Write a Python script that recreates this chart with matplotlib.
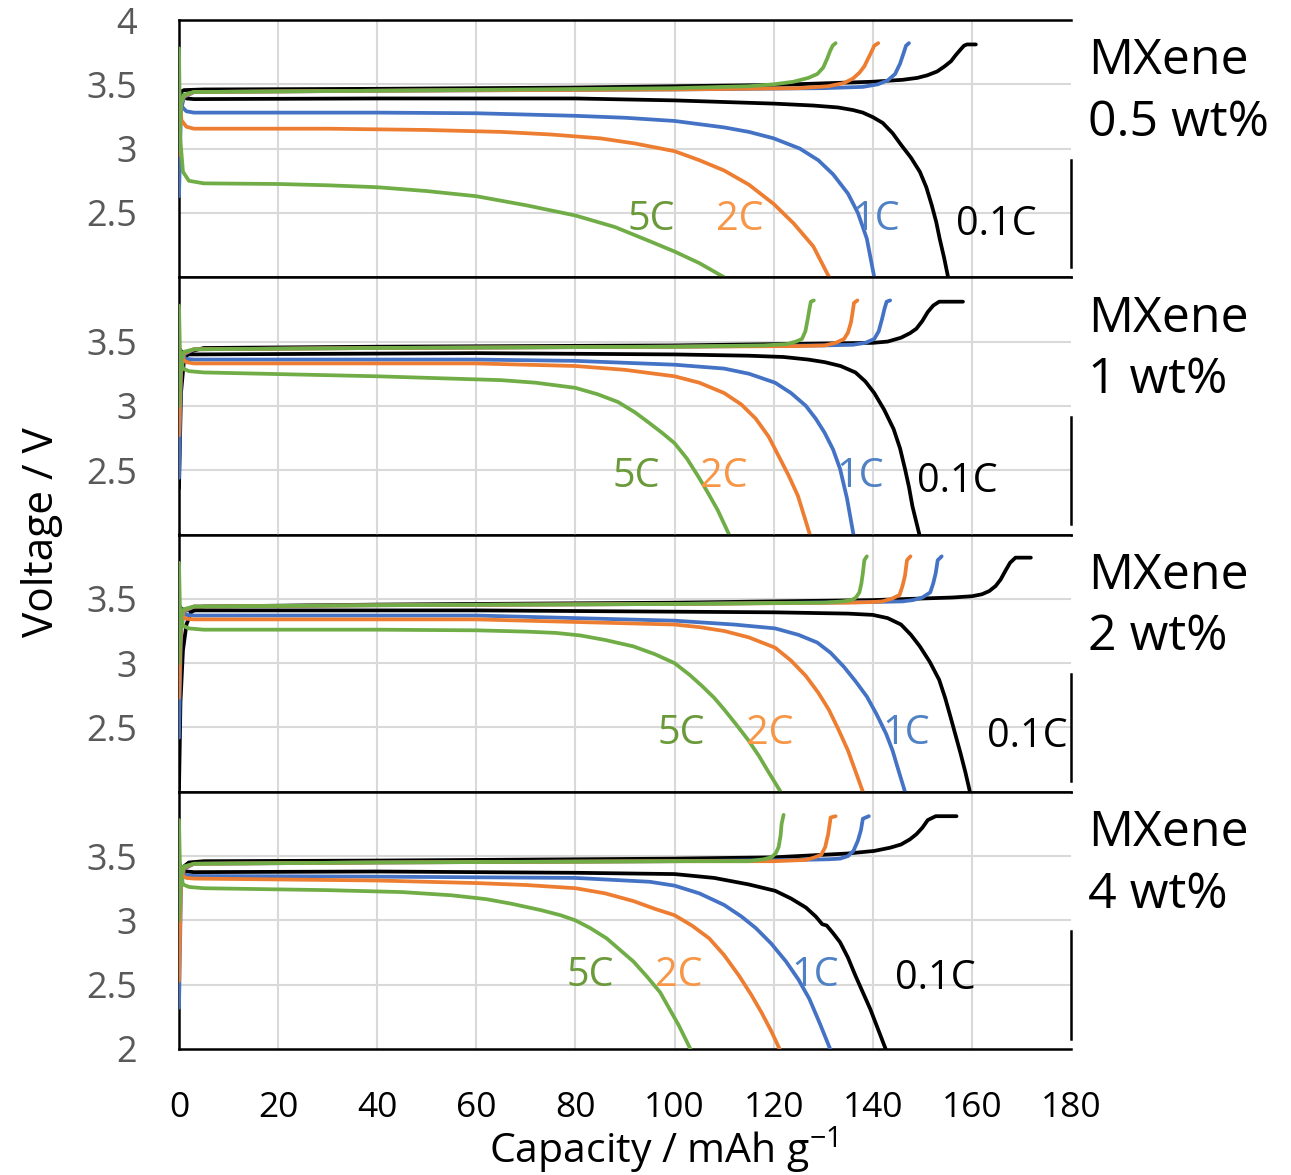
import matplotlib
matplotlib.use("Agg")
import matplotlib.pyplot as plt

plt.rcParams['font.family'] = ['Open Sans', 'DejaVu Sans']
plt.rcParams['mathtext.fontset'] = 'custom'
plt.rcParams['mathtext.rm'] = 'Open Sans'

rates = ["0.1C", "1C", "2C", "5C"]
colors = {"0.1C": "#000000", "1C": "#4472C4", "2C": "#ED7D31", "5C": "#70AD47"}
label_colors = {"0.1C": "#000000", "1C": "#4F81C4", "2C": "#F79646", "5C": "#6A9A3A"}
panel_names = ["MXene\n0.5 wt%", "MXene\n1 wt%", "MXene\n2 wt%", "MXene\n4 wt%"]

# ---- 0.5 wt% ----
chg_05 = {
    "0.1C": ([0, 0.3, 1, 5, 40, 80, 120, 140, 146, 149, 151, 153, 154.5, 155.8, 156.8, 157.7, 158.4, 159, 160.8],
             [3.30, 3.44, 3.455, 3.46, 3.465, 3.475, 3.495, 3.52, 3.535, 3.55, 3.57, 3.60, 3.64, 3.68, 3.73, 3.77, 3.80, 3.81, 3.81]),
    "1C": ([0, 0.4, 1, 3, 40, 100, 130, 138, 141, 143, 144.5, 145.5, 146.2, 146.7, 147.3],
           [2.63, 3.30, 3.40, 3.44, 3.45, 3.46, 3.47, 3.48, 3.50, 3.53, 3.58, 3.66, 3.74, 3.80, 3.82]),
    "2C": ([0, 0.4, 1, 3, 40, 100, 125, 131, 134.2, 136, 137.3, 138.3, 138.8, 139.7, 140.3, 141.1],
           [2.95, 3.35, 3.41, 3.44, 3.45, 3.46, 3.47, 3.485, 3.51, 3.545, 3.59, 3.64, 3.68, 3.75, 3.80, 3.82]),
    "5C": ([0, 0.4, 1, 3, 40, 100, 115, 120, 124, 127, 128.8, 130, 130.8, 131.4, 131.9, 132.5],
           [3.00, 3.35, 3.42, 3.44, 3.45, 3.47, 3.485, 3.50, 3.52, 3.55, 3.58, 3.63, 3.70, 3.76, 3.80, 3.82]),
}
dis_05 = {
    "0.1C": ([0, 0.5, 1.5, 3, 40, 80, 100, 120, 128, 133, 136, 138, 140, 142, 144, 145.7, 147.7, 149.5,
              150.8, 151.9, 152.8, 153.5, 154.4, 155.2],
             [3.46, 3.42, 3.39, 3.385, 3.39, 3.39, 3.375, 3.35, 3.335, 3.32, 3.30, 3.28, 3.245, 3.20, 3.12, 3.03,
              2.93, 2.82, 2.70, 2.56, 2.43, 2.30, 2.15, 2.0]),
    "1C": ([0, 0.5, 1.5, 3, 40, 60, 80, 90, 100, 105, 110, 115, 120, 125.3, 129, 132, 135, 137, 138.8, 140.3],
           [3.45, 3.33, 3.29, 3.28, 3.28, 3.275, 3.255, 3.24, 3.215, 3.19, 3.165, 3.13, 3.08, 3.0, 2.91, 2.80,
            2.65, 2.50, 2.30, 2.0]),
    "2C": ([0, 0.5, 1.5, 3, 30, 50, 65, 75, 85, 92, 100, 105, 110, 115, 120, 124, 128, 131.2],
           [3.45, 3.22, 3.17, 3.155, 3.155, 3.145, 3.13, 3.11, 3.08, 3.04, 2.98, 2.91, 2.83, 2.72, 2.57, 2.42,
            2.24, 2.0]),
    "5C": ([0, 0.2, 0.8, 2, 5, 20, 30, 40, 50, 60, 70, 80, 88, 95, 100, 105, 110],
           [3.78, 3.10, 2.82, 2.75, 2.73, 2.725, 2.715, 2.70, 2.67, 2.63, 2.56, 2.48, 2.39, 2.28, 2.20, 2.11, 2.0]),
}

# ---- 1 wt% ----
chg_1 = {
    "0.1C": ([0, 0.4, 1, 2, 5, 40, 100, 140, 143, 145.7, 147.5, 148.8, 150, 151.1, 152.2, 153.4, 158.2],
             [2.36, 3.10, 3.35, 3.42, 3.45, 3.46, 3.47, 3.49, 3.50, 3.53, 3.565, 3.60, 3.66, 3.73, 3.78, 3.81, 3.81]),
    "1C": ([0, 0.4, 1, 3, 40, 100, 130, 136, 138.5, 140.3, 141.2, 141.9, 142.4, 142.8, 143.5],
           [2.44, 3.25, 3.40, 3.44, 3.45, 3.46, 3.47, 3.475, 3.49, 3.52, 3.58, 3.68, 3.76, 3.81, 3.82]),
    "2C": ([0, 0.4, 1, 3, 40, 100, 125, 130.3, 132.5, 134.2, 135.0, 135.6, 135.9, 136.2, 136.9],
           [2.77, 3.30, 3.41, 3.44, 3.45, 3.46, 3.465, 3.47, 3.49, 3.52, 3.57, 3.65, 3.72, 3.80, 3.82]),
    "5C": ([0, 0.4, 1, 3, 40, 100, 118, 122.6, 124.5, 125.7, 126.4, 126.9, 127.2, 127.5, 128.1],
           [3.00, 3.35, 3.42, 3.44, 3.45, 3.46, 3.47, 3.48, 3.50, 3.52, 3.58, 3.68, 3.75, 3.81, 3.82]),
}
dis_1 = {
    "0.1C": ([0, 0.5, 1.5, 3, 60, 100, 115, 122, 127, 130.3, 133.5, 136.5, 138.5, 140.3, 142.3, 144.2, 145.5,
              146.5, 147.3, 148, 149.4],
             [3.45, 3.42, 3.40, 3.40, 3.41, 3.40, 3.39, 3.38, 3.36, 3.34, 3.31, 3.26, 3.19, 3.10, 2.97, 2.82, 2.67,
              2.51, 2.37, 2.22, 2.0]),
    "1C": ([0, 0.5, 1.5, 3, 60, 80, 100, 110, 115, 120.3, 123.5, 126.5, 128.5, 130.3, 132, 133.4, 134.8, 136.1],
           [3.45, 3.39, 3.365, 3.36, 3.36, 3.35, 3.32, 3.29, 3.25, 3.18, 3.10, 3.0, 2.90, 2.79, 2.66, 2.51, 2.28, 2.0]),
    "2C": ([0, 0.5, 1.5, 3, 60, 80, 90, 100, 105, 110, 113.5, 116.4, 119, 121, 123, 124.9, 127.3],
           [3.45, 3.37, 3.34, 3.33, 3.33, 3.31, 3.28, 3.23, 3.18, 3.10, 3.01, 2.90, 2.76, 2.61, 2.46, 2.30, 2.0]),
    "5C": ([0, 0.2, 0.8, 2, 5, 40, 65, 72, 80, 84.5, 88.6, 92, 94.8, 97.5, 100, 102.5, 104.8, 106.8, 108.7, 111],
           [3.78, 3.40, 3.29, 3.27, 3.26, 3.23, 3.20, 3.18, 3.14, 3.09, 3.03, 2.95, 2.87, 2.79, 2.71, 2.59, 2.45,
            2.32, 2.19, 2.0]),
}

# ---- 2 wt% ----
chg_2 = {
    "0.1C": ([0, 0.3, 0.8, 1.5, 2.5, 5, 40, 100, 140, 156, 160, 162, 163.5, 164.8, 165.8, 166.8, 167.7, 168.8, 171.9],
             [2.02, 2.70, 3.10, 3.30, 3.40, 3.44, 3.455, 3.47, 3.49, 3.51, 3.52, 3.535, 3.56, 3.60, 3.65, 3.72, 3.78,
              3.82, 3.82]),
    "1C": ([0, 0.4, 1, 3, 40, 100, 140, 146, 148.1, 150, 151.6, 152.2, 152.7, 153.1, 153.9],
           [2.42, 3.25, 3.40, 3.44, 3.45, 3.46, 3.475, 3.48, 3.49, 3.51, 3.55, 3.62, 3.70, 3.80, 3.83]),
    "2C": ([0, 0.4, 1, 3, 40, 100, 135, 140, 141.9, 143.8, 145.4, 146.0, 146.5, 146.9, 147.6],
           [2.73, 3.30, 3.41, 3.44, 3.45, 3.46, 3.47, 3.475, 3.48, 3.50, 3.53, 3.60, 3.68, 3.80, 3.83]),
    "5C": ([0, 0.4, 1, 3, 40, 100, 130.3, 134, 135.7, 136.6, 137.3, 137.7, 138, 138.3, 138.8],
           [3.00, 3.35, 3.42, 3.44, 3.45, 3.46, 3.47, 3.48, 3.49, 3.51, 3.55, 3.62, 3.70, 3.80, 3.83]),
}
dis_2 = {
    "0.1C": ([0, 0.5, 1.5, 3, 60, 120, 135, 140, 143, 145.7, 147.7, 149.5, 151.5, 153.4, 154.6, 155.7, 156.7,
              157.7, 158.7, 159.6],
             [3.45, 3.42, 3.41, 3.41, 3.41, 3.395, 3.385, 3.375, 3.35, 3.30, 3.22, 3.13, 3.01, 2.87, 2.73, 2.58,
              2.44, 2.30, 2.15, 2.0]),
    "1C": ([0, 0.5, 1.5, 3, 60, 100, 112, 120.3, 125, 128.8, 131.5, 134.2, 136.5, 138.8, 140.8, 142.7, 144, 145,
            146.5],
           [3.45, 3.39, 3.375, 3.37, 3.37, 3.33, 3.30, 3.27, 3.22, 3.16, 3.08, 2.97, 2.86, 2.74, 2.60, 2.45, 2.32,
            2.19, 2.0]),
    "2C": ([0, 0.5, 1.5, 3, 60, 100, 105, 110, 115, 120.3, 123.5, 126.5, 129, 131.1, 133, 135, 136.5, 138],
           [3.45, 3.36, 3.345, 3.34, 3.34, 3.30, 3.28, 3.25, 3.20, 3.12, 3.02, 2.90, 2.77, 2.64, 2.49, 2.32, 2.16, 2.0]),
    "5C": ([0, 0.2, 0.8, 2, 5, 40, 60, 70, 76, 81, 86, 91.7, 96, 100, 103, 105.6, 108, 110, 112.5, 114.9, 117,
            118.7, 121.4],
           [3.78, 3.40, 3.29, 3.27, 3.26, 3.26, 3.255, 3.245, 3.235, 3.215, 3.18, 3.13, 3.07, 3.0, 2.91, 2.82, 2.73,
            2.64, 2.52, 2.40, 2.28, 2.17, 2.0]),
}

# ---- 4 wt% ----
chg_4 = {
    "0.1C": ([0, 0.3, 1, 2, 5, 40, 100, 120, 135, 140.3, 143.5, 145.7, 147.5, 148.8, 150, 151.1, 152.7, 156.9],
             [2.90, 3.30, 3.42, 3.45, 3.46, 3.465, 3.48, 3.49, 3.52, 3.54, 3.565, 3.59, 3.63, 3.67, 3.72, 3.78, 3.81,
              3.81]),
    "1C": ([0, 0.4, 1, 3, 40, 100, 125, 131, 133.4, 135, 136.1, 137, 137.6, 138, 139.2],
           [2.32, 3.25, 3.40, 3.44, 3.45, 3.46, 3.47, 3.475, 3.48, 3.50, 3.54, 3.62, 3.70, 3.79, 3.81]),
    "2C": ([0, 0.4, 1, 3, 40, 100, 120, 126.5, 128.3, 129.6, 130.4, 131, 131.5, 132.5],
           [2.53, 3.30, 3.41, 3.44, 3.45, 3.46, 3.46, 3.47, 3.49, 3.51, 3.57, 3.67, 3.80, 3.81]),
    "5C": ([0, 0.4, 1, 3, 40, 100, 114.9, 118, 119.5, 120.4, 121, 121.4, 121.6, 122],
           [3.00, 3.35, 3.42, 3.44, 3.45, 3.46, 3.46, 3.475, 3.49, 3.52, 3.57, 3.66, 3.75, 3.82]),
}
dis_4 = {
    "0.1C": ([0, 0.5, 1.5, 3, 40, 80, 100, 108, 114.9, 120.3, 123.5, 126.5, 128.5, 129.8, 130.7, 132, 133.4, 135,
              136.5, 138, 139.5, 141, 142.6],
             [3.45, 3.40, 3.38, 3.375, 3.38, 3.37, 3.36, 3.33, 3.28, 3.23, 3.17, 3.10, 3.03, 2.97, 2.96, 2.90, 2.83,
              2.71, 2.57, 2.44, 2.31, 2.16, 2.0]),
    "1C": ([0, 0.5, 1.5, 3, 40, 80, 95, 100, 105, 110, 113.5, 116.4, 119.5, 122.5, 125, 127.2, 129.3, 131.4],
           [3.45, 3.37, 3.35, 3.345, 3.34, 3.33, 3.30, 3.27, 3.21, 3.12, 3.03, 2.94, 2.82, 2.68, 2.54, 2.39, 2.20, 2.0]),
    "2C": ([0, 0.5, 1.5, 3, 40, 60, 70, 80, 86, 91.7, 96, 100, 103.5, 107, 110, 113, 115.5, 117.6, 119.5, 121.2],
           [3.45, 3.35, 3.33, 3.325, 3.31, 3.29, 3.275, 3.25, 3.21, 3.15, 3.09, 3.04, 2.96, 2.86, 2.73, 2.57, 2.42,
            2.28, 2.14, 2.0]),
    "5C": ([0, 0.2, 0.8, 2, 5, 30, 45, 55, 62, 67, 73, 77, 80, 83, 86.3, 89, 91.7, 94.5, 97.1, 99, 100.9, 103.2],
           [3.78, 3.40, 3.28, 3.26, 3.25, 3.235, 3.22, 3.195, 3.165, 3.13, 3.08, 3.04, 3.0, 2.94, 2.86, 2.77, 2.68,
            2.56, 2.44, 2.31, 2.18, 2.0]),
}

# where each rate label sits (capacity, voltage) in each panel
label_pos_05 = {"5C": (95.2, 2.45), "2C": (113.2, 2.45), "1C": (140.6, 2.45), "0.1C": (165.0, 2.41)}
label_pos_1 = {"5C": (92.2, 2.45), "2C": (110.0, 2.45), "1C": (137.4, 2.45), "0.1C": (157.0, 2.41)}
label_pos_2 = {"5C": (101.3, 2.45), "2C": (119.2, 2.45), "1C": (146.7, 2.45), "0.1C": (171.1, 2.43)}
label_pos_4 = {"5C": (82.9, 2.57), "2C": (100.9, 2.57), "1C": (128.3, 2.57), "0.1C": (152.7, 2.55)}

ytick_sets = [[2.5, 3, 3.5, 4], [2.5, 3, 3.5], [2.5, 3, 3.5], [2, 2.5, 3, 3.5]]

panels = [(chg_05, dis_05, label_pos_05), (chg_1, dis_1, label_pos_1),
          (chg_2, dis_2, label_pos_2), (chg_4, dis_4, label_pos_4)]

W, H = 1291, 1175
fig = plt.figure(figsize=(W / 100, H / 100), dpi=100)

left_px, right_px = 179, 1071
top_px, bottom_px = 20, 1049
ph = (bottom_px - top_px) / 4

for i, (chg, dis, lpos) in enumerate(panels):
    t = top_px + i * ph
    ax = fig.add_axes([left_px / W, 1 - (t + ph) / H, (right_px - left_px) / W, ph / H])
    ax.set_xlim(0, 180)
    ax.set_ylim(2, 4)

    # light grid, drawn by hand so the right edge stays open
    for gx in range(20, 180, 20):
        ax.axvline(gx, color="#D9D9D9", lw=1.5, zorder=0)
    for gy in [2.5, 3, 3.5]:
        ax.axhline(gy, color="#D9D9D9", lw=1.5, zorder=0)

    for r in rates:
        q, v = chg[r]
        ax.plot(q, v, color=colors[r], lw=2.7, solid_capstyle="round", solid_joinstyle="round", zorder=3)
        q, v = dis[r]
        ax.plot(q, v, color=colors[r], lw=2.7, solid_capstyle="round", solid_joinstyle="round", zorder=3)
    for r in rates:
        x, y = lpos[r]
        ax.text(x, y, r, color=label_colors[r], fontsize=28.5, ha="center", va="center", zorder=4)

    for s in ["left", "bottom", "top"]:
        ax.spines[s].set_linewidth(1.8)
        ax.spines[s].set_color("black")
    ax.spines["right"].set_visible(False)
    ax.axvline(180, ymin=0.04, ymax=0.457, color="black", lw=1.8, clip_on=False)

    ax.set_yticks(ytick_sets[i])
    ax.set_yticklabels([f"{t:g}" for t in ytick_sets[i]], color="#595959", fontsize=26)
    ax.tick_params(axis="y", length=0, pad=30)
    ax.set_xticks(range(0, 181, 20))
    if i == 3:
        ax.tick_params(axis="x", length=0, pad=30, labelsize=25.5)
    else:
        ax.tick_params(axis="x", length=0, labelbottom=False)

    fig.text(1088 / W, 1 - (92.5 + i * ph) / H, panel_names[i], fontsize=36,
             ha="left", va="center", linespacing=1.32)

fig.text(663 / W, 1 - 1150 / H, "Capacity / mAh g$^{\\mathregular{-1}}$", fontsize=29.5,
         ha="center", va="center")
fig.text(42 / W, 1 - 532 / H, "Voltage / V", fontsize=30.5, rotation=90,
         ha="center", va="center")

fig.savefig("out.png", dpi=100)
